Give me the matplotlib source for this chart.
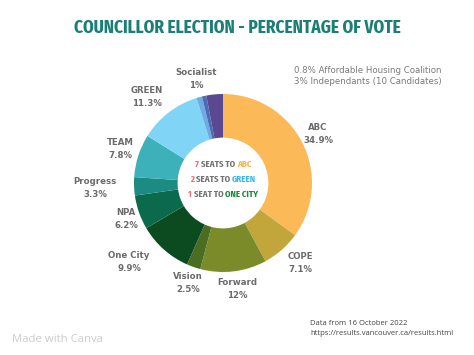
import os
import matplotlib.pyplot as plt
from matplotlib import font_manager as fm
from matplotlib.offsetbox import TextArea, HPacker, VPacker, AnchoredOffsetbox

# data (clockwise from 12 o'clock)
parties = ["ABC", "COPE", "Forward", "Vision", "One City", "NPA", "Progress",
           "TEAM", "GREEN", "Socialist", "Affordable Housing", "Independents"]
shares = [34.9, 7.1, 12, 2.5, 9.9, 6.2, 3.3, 7.8, 11.3, 1, 0.8, 3]
share_text = ["34.9%", "7.1%", "12%", "2.5%", "9.9%", "6.2%", "3.3%",
              "7.8%", "11.3%", "1%", None, None]
colors = ["#fbb957", "#c2a63c", "#7b8b2a", "#4a6d22", "#0c4a1f", "#0b6a4c",
          "#1c8c82", "#3cb1ba", "#80d5f6", "#6cace2", "#4b6cb5", "#5a4992"]

seat_lines = [("7", "SEATS TO", "ABC", "#f7b24f"),
              ("2", "SEATS TO", "GREEN", "#3fb5ef"),
              ("1", "SEAT TO", "ONE CITY", "#1b8a3b")]

W, H = 474, 355
def fx(x):
    return x / W
def fy(y):
    return 1 - y / H


def find_condensed():
    # look for a bold condensed / narrow face, Bebas-ish look
    best, best_score = None, -1
    for f in fm.fontManager.ttflist:
        s = (f.name + " " + os.path.basename(f.fname)).lower()
        w = f.weight if isinstance(f.weight, int) else (700 if "bold" in str(f.weight) else 400)
        score = 0
        if "extracondensed" in s or "extra-condensed" in str(f.stretch) or "extra condensed" in s:
            score = 30
        elif "condensed" in s or "narrow" in s or "condensed" in str(f.stretch):
            score = 20
        else:
            continue
        if "semicondensed" in s or "semi" in str(f.stretch):
            score -= 5
        if w >= 700 and "extrabold" not in s and "black" not in s:
            score += 5
        elif w >= 600:
            score += 3
        if "italic" in s or f.style != "normal":
            score -= 50
        if score > best_score:
            best, best_score = f.fname, score
    if best is None:
        return fm.FontProperties(family="DejaVu Sans", weight="bold")
    return fm.FontProperties(fname=best)


cond = find_condensed()
label_font = ["DejaVu Sans"]

fig = plt.figure(figsize=(W / 100, H / 100), dpi=100)
fig.patch.set_facecolor("white")
renderer = fig.canvas.get_renderer()


def fit_size(text, width_px, start=10):
    t = fig.text(0, 0, text, fontproperties=cond, fontsize=start)
    w = t.get_window_extent(renderer).width
    t.remove()
    return start * width_px / w


# donut: centre (223,183), radius 89 px
cx, cy, r = 223, 183, 89
ax = fig.add_axes([fx(cx - r), fy(cy + r), 2 * r / W, 2 * r / H])
wedges, _ = ax.pie(shares, colors=colors, startangle=90, counterclock=False,
                   radius=1, wedgeprops=dict(width=0.49, linewidth=0))
ax.set_xlim(-1, 1)
ax.set_ylim(-1, 1)
ax.set_aspect("equal")
ax.axis("off")

# labels placed around the ring
label_pos = {
    "ABC": (318, 134), "COPE": (300, 263), "Forward": (237, 289),
    "Vision": (188, 283), "One City": (129, 262), "NPA": (126, 219),
    "Progress": (95, 188), "TEAM": (120, 149), "GREEN": (147, 97),
    "Socialist": (196, 79),
}
for name, txt in zip(parties, share_text):
    if txt is None:
        continue
    x, y = label_pos[name]
    fig.text(fx(x), fy(y), f"{name}\n{txt}", ha="center", va="center",
             fontsize=6.2, fontweight="bold", color="#6b6b6b",
             family=label_font, linespacing=1.45)

# centre text
cs = fit_size("1 SEAT TO ONE CITY", 66) * 1.06
rows = []
for num, word, party, col in seat_lines:
    parts = [TextArea(num, textprops=dict(color="#ef6f7a", fontproperties=cond, fontsize=cs)),
             TextArea(word, textprops=dict(color="#727272", fontproperties=cond, fontsize=cs)),
             TextArea(party, textprops=dict(color=col, fontproperties=cond, fontsize=cs))]
    rows.append(HPacker(children=parts, align="baseline", pad=0, sep=cs * 0.22))
box = VPacker(children=rows, align="center", pad=0, sep=cs * 0.68)
ab = AnchoredOffsetbox(loc="center", child=box, frameon=False,
                       bbox_to_anchor=(0.5, 0.52), bbox_transform=ax.transAxes, pad=0)
ax.add_artist(ab)

title = "COUNCILLOR ELECTION - PERCENTAGE OF VOTE"
fig.text(fx(237), fy(28), title, ha="center", va="center",
         fontproperties=cond, fontsize=min(fit_size(title, 327), 17),
         color="#1b7f77")

fig.text(fx(294), fy(76), "0.8% Affordable Housing Coalition\n3% Independants (10 Candidates)",
         ha="left", va="center", fontsize=6.2, color="#7a7a7a",
         family=label_font, linespacing=1.35)

fig.text(fx(310), fy(328.5), "Data from 16 October 2022\nhttps://results.vancouver.ca/results.html",
         ha="left", va="center", fontsize=5.5, color="#444444",
         family=["Open Sans", "DejaVu Sans"], linespacing=1.75)

fig.text(fx(12), fy(340), "Made with Canva", ha="left", va="center",
         fontsize=8.2, color="#cccccc", family=["Open Sans", "DejaVu Sans"])

fig.savefig("out.png", dpi=100, facecolor="white")
